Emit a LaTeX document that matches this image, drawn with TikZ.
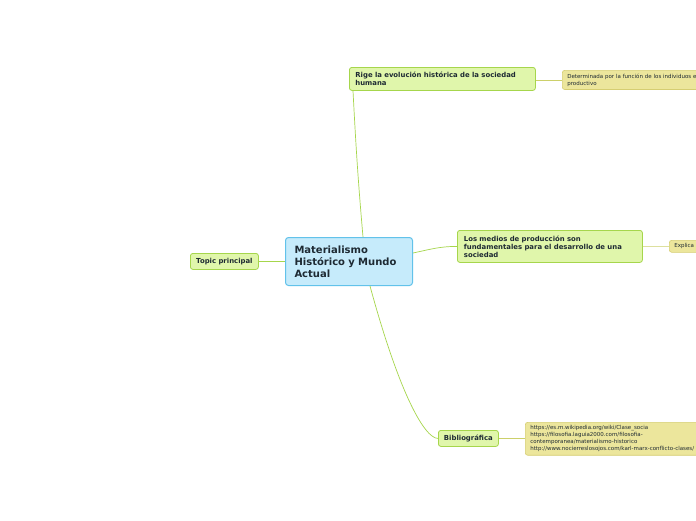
\documentclass[tikz,border=0pt]{standalone}
\usepackage{fontspec}
\setmainfont{DejaVu Sans}
\usetikzlibrary{calc,positioning}
\definecolor{MapBlue}{HTML}{C6EBFB}
\definecolor{MapBlueLine}{HTML}{62C2EA}
\definecolor{MapGreen}{HTML}{E0F6AB}
\definecolor{MapGreenLine}{HTML}{A6D64C}
\definecolor{MapKhaki}{HTML}{ECE69C}
\definecolor{MapKhakiLine}{HTML}{D6CE72}
\definecolor{MapText}{HTML}{1E2A33}

\begin{document}
\begin{tikzpicture}[x=1pt,y=-1pt,
    central/.style={draw=MapBlueLine,fill=MapBlue,line width=1pt,rounded corners=3pt,
      anchor=north west,align=left,inner xsep=9pt,text=MapText,
      font=\bfseries\fontsize{10}{12}\selectfont},
    topic/.style={draw=MapGreenLine,fill=MapGreen,line width=0.8pt,rounded corners=2.5pt,
      anchor=north west,align=left,inner xsep=6pt,text=MapText,
      font=\bfseries\fontsize{6.9}{8}\selectfont},
    leaf/.style={draw=MapKhakiLine,fill=MapKhaki,line width=0.6pt,rounded corners=2.5pt,
      anchor=north west,align=left,inner xsep=4pt,text=MapText,
      font=\fontsize{5.5}{7}\selectfont},
    branch/.style={draw=MapGreenLine,line width=0.7pt},
    twig/.style={draw=MapKhakiLine!80!MapGreenLine,line width=0.6pt}
  ]
  \useasboundingbox (0,0) rectangle (696,520);
  \clip (0,0) rectangle (696,520);
  \fill[white] (0,0) rectangle (696,520);

  % main topic
  \node[central,minimum width=127pt,minimum height=48pt,text width=109pt] (main) at (285,237)
    {Materialismo Histórico y Mundo Actual};

  % subtopics
  \node[topic,minimum width=68pt,minimum height=16pt,inner xsep=5pt] (label) at (190,253) {Topic principal};
  \node[topic,minimum width=186pt,minimum height=23pt,text width=174pt] (rige) at (349,67)
    {Rige la evolución histórica de la sociedad\\humana};
  \node[topic,minimum width=185pt,minimum height=32pt,text width=172pt,inner xsep=5pt] (medios) at (457,230)
    {Los medios de producción son\\fundamentales para el desarrollo de una\\sociedad};
  \node[topic,minimum width=60pt,minimum height=16pt,inner xsep=5pt] (biblio) at (438,430) {Bibliográfica};

  % details
  \node[leaf,minimum width=160pt,minimum height=18pt,text width=150pt] (funcion) at (562,70)
    {Determinada por la función de los individuos en\\productivo};
  \node[leaf,minimum width=60pt,minimum height=12pt,text width=50pt] (explica) at (669,240) {Explica l};
  \node[leaf,minimum width=190pt,minimum height=31pt,text width=180pt] (fuentes) at (525,422)
    {https://es.m.wikipedia.org/wiki/Clase\_socia\\
     https://filosofia.laguia2000.com/filosofia-\\
     contemporanea/materialismo-historico\\
     http://www.nocierreslosojos.com/karl-marx-conflicto-clases/};

  % connectors
  \draw[branch] (label.east) -- (main.west |- label.east);
  \draw[branch] ($(main.north west)+(78,0)$) to[out=95,in=-87] ($(rige.south west)+(4,0)$);
  \draw[branch] ($(main.north east)+(0,16)$) to[out=12,in=180] (medios.west);
  \draw[branch] ($(main.south west)+(85,0)$) .. controls ($(main.south west)+(115,110)$)
    and ($(biblio.west)+(-13,0)$) .. (biblio.west);
  \draw[twig] (rige.east |- funcion.west) -- (funcion.west);
  \draw[twig] (medios.east) -- (explica.west);
  \draw[twig] (biblio.east) -- (fuentes.west |- biblio.east);
\end{tikzpicture}
\end{document}
